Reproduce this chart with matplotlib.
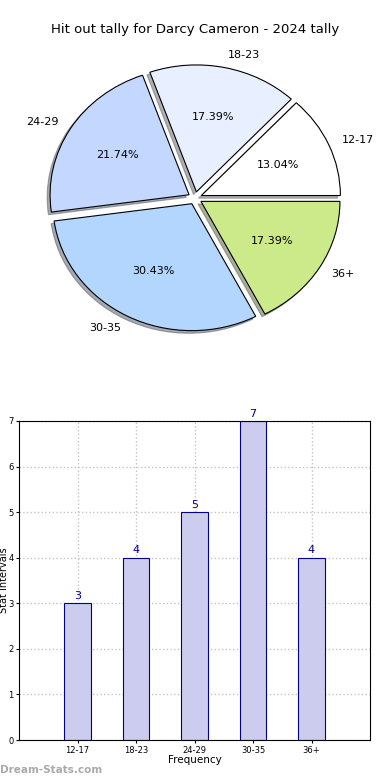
import matplotlib
matplotlib.use("Agg")
import matplotlib.pyplot as plt

categories = ["12-17", "18-23", "24-29", "30-35", "36+"]
counts = [3, 4, 5, 7, 4]
pie_colors = ["#ffffff", "#e8f0ff", "#c4d8ff", "#b3d6ff", "#cdea8a"]

fig = plt.figure(figsize=(3.9, 7.8), dpi=100)

# Pie
axp = fig.add_axes([0, 0.5385, 1, 0.410])
wedges, texts, autotexts = axp.pie(
    counts, labels=categories, colors=pie_colors, autopct="%.2f%%",
    startangle=0, counterclock=True, explode=[0.05] * len(counts),
    shadow=dict(ox=-0.015, oy=-0.015, shade=0.6),
    wedgeprops=dict(edgecolor="black", linewidth=0.8),
    textprops=dict(fontsize=8),
)
axp.set_aspect("auto")
axp.set_xlim(-195 / 139, 195 / 139)
axp.set_ylim(-162 / 127, 158 / 127)
axp.axis("off")
fig.text(0.5, 1 - 30 / 780, "Hit out tally for Darcy Cameron - 2024 tally",
         ha="center", va="center", fontsize=9.5)

# Bars
axb = fig.add_axes([19 / 390, 40 / 780, 351 / 390, 319 / 780])
x = list(range(len(categories)))
bars = axb.bar(x, counts, width=0.45, color="#ccccee", edgecolor="#000088",
               linewidth=0.8, zorder=2)
for xi, v in zip(x, counts):
    axb.text(xi, v + 0.05, str(v), ha="center", va="bottom", color="#000088",
             fontsize=8)
axb.set_xlim(-1, 5)
axb.set_ylim(0, 7)
axb.set_xticks(x)
axb.set_xticklabels(categories)
axb.set_yticks(range(0, 8))
axb.tick_params(labelsize=6, length=2, pad=2)
axb.grid(True, linestyle=":", color="#c4c4c4", linewidth=1, zorder=0)
axb.set_axisbelow(True)
axb.set_xlabel("Frequency", fontsize=7.5, labelpad=0)
axb.set_ylabel("Stat Intervals", fontsize=7)
axb.yaxis.set_label_coords(-10 / 351, 0.5)

fig.text(0.0, 1 - 770 / 780, "Dream-Stats.com", ha="left", va="center",
         fontsize=7.5, color="#aaaaaa", fontweight="bold")

fig.savefig("out.png", dpi=100)
